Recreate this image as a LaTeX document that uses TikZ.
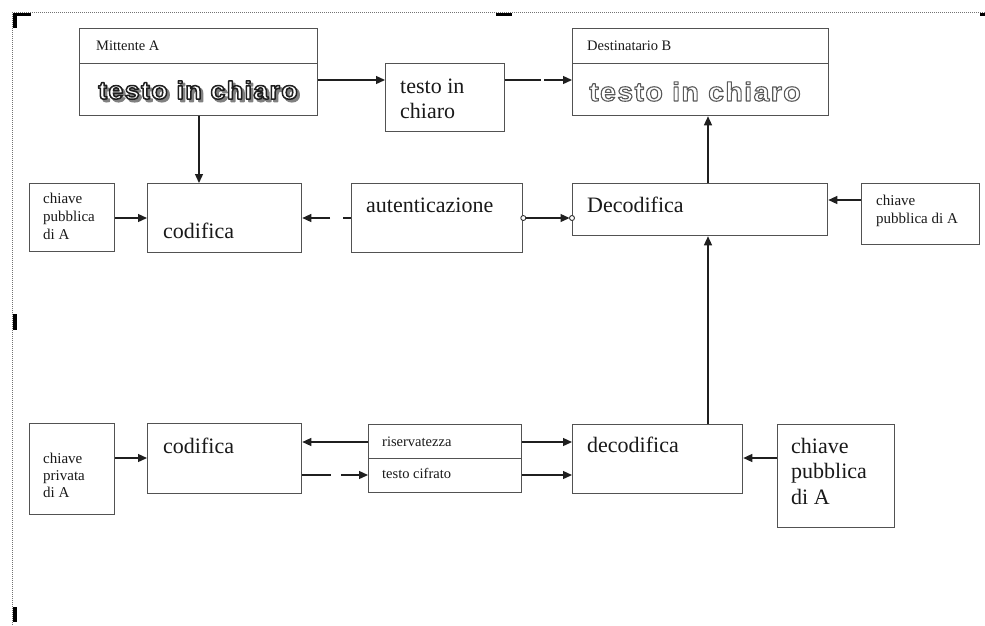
\documentclass[tikz,border=0pt]{standalone}
\usepackage{fontspec}
\setmainfont{Liberation Serif}
\newfontfamily\outfont[FakeStretch=1.08,LetterSpace=5]{Liberation Sans}
\usetikzlibrary{arrows.meta,calc}
\newcommand\mystack[3]{\fontsize{#1}{#2}\selectfont\begin{tabular}[t]{@{}l@{}}#3\end{tabular}}
\newcommand\outlined[3]{\special{pdf:literal direct #1 G #2 w 1 j 2 Tr}#3\special{pdf:literal direct 0 Tr}}
\begin{document}
\begin{tikzpicture}[x=1pt,y=-1pt,
  box/.style={draw=black!68,line width=1.3pt,fill=white,inner sep=0pt,anchor=north west},
  lbl/.style={inner sep=0pt,anchor=base west,text=black!90},
  big/.style={lbl,font=\fontsize{22}{25}\selectfont},
  small/.style={lbl,font=\fontsize{14.5}{17}\selectfont},
  arr/.style={draw=black!88,line width=1.3pt,-{Triangle[length=9pt,width=8pt]}},
  otxtL/.style={inner sep=0pt,anchor=base west,font=\outfont\bfseries\fontsize{25}{30}\selectfont},
  otxtR/.style={inner sep=0pt,anchor=base west,font=\outfont\bfseries\fontsize{26.5}{30}\selectfont},
  frameline/.style={draw=black!55,line width=0.8pt,dash pattern=on 1pt off 1pt},
  cornermark/.style={fill=black}
]
\useasboundingbox (0,0) rectangle (985,625);

% frame
\draw[frameline] (12,12) -- (985,12);
\draw[frameline] (12,12) -- (12,625);
\fill[cornermark] (13,13) rectangle (31,16);
\fill[cornermark] (13,13) rectangle (17,28);
\fill[cornermark] (496,13) rectangle (512,16);
\fill[cornermark] (980,13) rectangle (985,16);
\fill[cornermark] (13,314) rectangle (17,330);
\fill[cornermark] (13,607) rectangle (17,622);

% helper coordinates
\coordinate (y80) at (0,80);
\coordinate (y200) at (0,200);
\coordinate (y218) at (0,218);
\coordinate (y442) at (0,442);
\coordinate (y458) at (0,458);
\coordinate (y475) at (0,475);
\coordinate (x199) at (199,0);
\coordinate (x708) at (708,0);

% boxes
\node[box,minimum width=238pt,minimum height=35pt] (mittH) at (79,28) {};
\node[box,minimum width=238pt,minimum height=52pt] (mittB) at (79,63) {};
\node[box,minimum width=119pt,minimum height=68pt] (mid) at (385,63) {};
\node[box,minimum width=256pt,minimum height=35pt] (destH) at (572,28) {};
\node[box,minimum width=256pt,minimum height=52pt] (destB) at (572,63) {};
\node[box,minimum width=85pt,minimum height=68pt] (kpubL) at (29,183) {};
\node[box,minimum width=154pt,minimum height=69pt] (codT) at (147,183) {};
\node[box,minimum width=171pt,minimum height=69pt] (aut) at (351,183) {};
\node[box,minimum width=255pt,minimum height=52pt] (Dec) at (572,183) {};
\node[box,minimum width=118pt,minimum height=61pt] (kpubR) at (861,183) {};
\node[box,minimum width=85pt,minimum height=91pt] (kpriv) at (29,423) {};
\node[box,minimum width=154pt,minimum height=70pt] (codB) at (147,423) {};
\node[box,minimum width=153pt,minimum height=34pt] (ris) at (368,424) {};
\node[box,minimum width=153pt,minimum height=34pt] (cif) at (368,458) {};
\node[box,minimum width=170pt,minimum height=69pt] (decB) at (572,424) {};
\node[box,minimum width=117pt,minimum height=103pt] (kpubB) at (777,424) {};

% labels
\node[small] (tMitt) at (96,50) {Mittente A};
\node[small] (tDest) at (587,50) {Destinatario B};
\node[lbl] (tMid) at (400,93) {\mystack{22}{25}{testo in\\chiaro}};
\node[lbl] (tKpubL) at (43,203) {\mystack{15}{18}{chiave\\pubblica\\di A}};
\node[big] (tCodT) at (163,238) {codifica};
\node[big] (tAut) at (366,212) {autenticazione};
\node[big] (tDec) at (587,212) {Decodifica};
\node[lbl] (tKpubR) at (876,205) {\mystack{15}{18}{chiave\\pubblica di A}};
\node[big] (tCodB) at (163,453) {codifica};
\node[lbl] (tKpriv) at (43,463) {\mystack{15}{17}{chiave\\privata\\di A}};
\node[small] (tRis) at (382,446) {riservatezza};
\node[small] (tCif) at (382,478) {testo cifrato};
\node[big] (tDecB) at (587,452) {decodifica};
\node[lbl] (tKpubB) at (791,453) {\mystack{22}{25.5}{chiave\\pubblica\\di A}};

% outlined texts
\node[otxtL,text=black!50] (tShadowL) at (100.5,101.5) {\outlined{0.5}{1.6}{testo in chiaro}};
\node[otxtL,text=white] (tOutL) at (98,99) {\outlined{0.12}{1.5}{testo in chiaro}};
\node[otxtR,text=white] (tOutR) at (589,101) {\outlined{0.35}{1.1}{testo in chiaro}};

% connectors
\draw[arr] (mittB.east |- y80) -- (mid.west |- y80);
\draw[arr,dash pattern=on 36pt off 3pt on 100pt] (mid.east |- y80) -- (destB.west |- y80);
\draw[arr] (mittB.south -| x199) -- (codT.north -| x199);
\draw[arr] (kpubL.east |- y218) -- (codT.west |- y218);
\draw[arr,dash pattern=on 8pt off 13pt on 60pt] (aut.west |- y218) -- (codT.east |- y218);
\draw[arr,shorten >=2.5pt] (aut.east |- y218) -- (Dec.west |- y218);
\draw[draw=black!80,line width=0.9pt,fill=white] (aut.east |- y218) circle (2.5pt);
\draw[draw=black!80,line width=0.9pt,fill=white] (Dec.west |- y218) circle (2.5pt);
\draw[arr] (Dec.north -| x708) -- (destB.south -| x708);
\draw[arr] (kpubR.west |- y200) -- (Dec.east |- y200);
\draw[arr] (decB.north -| x708) -- (Dec.south -| x708);
\draw[arr] (ris.west |- y442) -- (codB.east |- y442);
\draw[arr,dash pattern=on 29pt off 10pt on 60pt] (codB.east |- y475) -- (cif.west |- y475);
\draw[arr] (ris.east |- y442) -- (decB.west |- y442);
\draw[arr] (cif.east |- y475) -- (decB.west |- y475);
\draw[arr] (kpriv.east |- y458) -- (codB.west |- y458);
\draw[arr] (kpubB.west |- y458) -- (decB.east |- y458);
\end{tikzpicture}
\end{document}
